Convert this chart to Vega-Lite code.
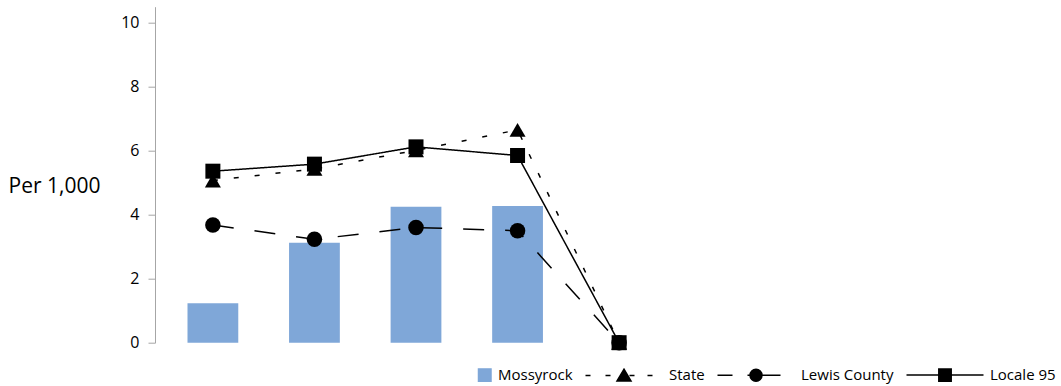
{
  "$schema": "https://vega.github.io/schema/vega-lite/v6.json",
  "width": 522,
  "height": 336,
  "autosize": "none",
  "padding": {"left": 155, "top": 6.7, "right": 384, "bottom": 43.3},
  "background": "white",
  "config": {"view": {"stroke": null}, "font": "Open Sans"},
  "data": {
    "values": [
      {"period": "P1", "series": "Mossyrock", "value": 1.23},
      {"period": "P2", "series": "Mossyrock", "value": 3.12},
      {"period": "P3", "series": "Mossyrock", "value": 4.25},
      {"period": "P4", "series": "Mossyrock", "value": 4.27},
      {"period": "P5", "series": "Mossyrock", "value": 0},
      {"period": "P1", "series": "State", "value": 5.07},
      {"period": "P2", "series": "State", "value": 5.43},
      {"period": "P3", "series": "State", "value": 6.01},
      {"period": "P4", "series": "State", "value": 6.65},
      {"period": "P5", "series": "State", "value": 0},
      {"period": "P1", "series": "Lewis County", "value": 3.68},
      {"period": "P2", "series": "Lewis County", "value": 3.23},
      {"period": "P3", "series": "Lewis County", "value": 3.6},
      {"period": "P4", "series": "Lewis County", "value": 3.5},
      {"period": "P5", "series": "Lewis County", "value": 0},
      {"period": "P1", "series": "Locale 95", "value": 5.36},
      {"period": "P2", "series": "Locale 95", "value": 5.58},
      {"period": "P3", "series": "Locale 95", "value": 6.12},
      {"period": "P4", "series": "Locale 95", "value": 5.85},
      {"period": "P5", "series": "Locale 95", "value": 0}
    ]
  },
  "encoding": {
    "x": {
      "field": "period",
      "type": "nominal",
      "sort": null,
      "axis": null,
      "scale": {"paddingInner": 0.5, "paddingOuter": 0.32}
    },
    "y": {
      "field": "value",
      "type": "quantitative",
      "scale": {"domain": [0, 10.5], "nice": false},
      "axis": {
        "values": [0, 2, 4, 6, 8, 10],
        "grid": false,
        "domainColor": "#a6a6a6",
        "tickColor": "#a6a6a6",
        "tickSize": 7,
        "labelPadding": 9,
        "labelFontSize": 16,
        "labelColor": "black",
        "labelFont": "Open Sans",
        "title": "Per 1,000",
        "titleAngle": 0,
        "titleAlign": "left",
        "titleBaseline": "middle",
        "titleX": -147,
        "titleY": 180,
        "titleFontSize": 21,
        "titleFontWeight": "normal",
        "titleColor": "black",
        "titleFont": "Open Sans"
      }
    }
  },
  "layer": [
    {
      "transform": [{"filter": "datum.series === 'Mossyrock'"}],
      "mark": {"type": "bar"},
      "encoding": {
        "color": {
          "field": "series",
          "type": "nominal",
          "scale": {
            "domain": ["Mossyrock", "State", "Lewis County", "Locale 95"],
            "range": ["#7fa7d8", "black", "black", "black"]
          },
          "legend": {
            "title": null,
            "orient": "none",
            "direction": "horizontal",
            "legendX": 317,
            "legendY": 357,
            "padding": 0,
            "columnPadding": 9,
            "symbolSize": 400,
            "symbolStrokeWidth": 1.5,
            "labelOffset": 4,
            "labelFontSize": 15,
            "labelFont": "Open Sans",
            "labelColor": "black",
            "encoding": {
              "symbols": {
                "shape": {"value": {"expr": "datum.value === 'Mossyrock' ? 'M-0.45,-0.62H0.8V0.62H-0.45Z' : datum.value === 'State' ? 'M-6.85,0H-6.35M-4.85,0H-4.35M-2.45,0H-1.95M-0.65,0H-0.15M-3,-0.62L-2.3,0.55L-3.7,0.55Z' : datum.value === 'Lewis County' ? 'M-6.85,0H-5.35M-3.85,0H-0.55M-3.6,0C-3.6,-0.331,-3.331,-0.6,-3,-0.6C-2.669,-0.6,-2.4,-0.331,-2.4,0C-2.4,0.331,-2.669,0.6,-3,0.6C-3.331,0.6,-3.6,0.331,-3.6,0Z' : 'M-6.85,0H0.85M-3.62,-0.62H-2.38V0.62H-3.62Z'"}},
                "fill": {"value": {"expr": "datum.value === 'Mossyrock' ? '#7fa7d8' : 'black'"}},
                "stroke": {"value": {"expr": "datum.value === 'Mossyrock' ? '#7fa7d8' : 'black'"}},
                "opacity": {"value": 1}
              }
            }
          }
        }
      }
    },
    {
      "transform": [{"filter": "datum.series !== 'Mossyrock'"}],
      "mark": {"type": "line", "color": "black", "strokeWidth": 1.5},
      "encoding": {
        "strokeDash": {
          "field": "series",
          "type": "nominal",
          "scale": {
            "domain": ["State", "Lewis County", "Locale 95"],
            "range": [[5, 16], [21, 21], [1, 0]]
          },
          "legend": null
        }
      }
    },
    {
      "transform": [{"filter": "datum.series !== 'Mossyrock'"}],
      "mark": {"type": "point", "filled": true, "color": "black", "opacity": 1},
      "encoding": {
        "shape": {
          "field": "series",
          "type": "nominal",
          "scale": {
            "domain": ["State", "Lewis County", "Locale 95"],
            "range": ["triangle-up", "circle", "square"]
          },
          "legend": null
        },
        "size": {
          "field": "series",
          "type": "ordinal",
          "scale": {
            "domain": ["State", "Lewis County", "Locale 95"],
            "range": [256, 225, 225]
          },
          "legend": null
        }
      }
    }
  ]
}
